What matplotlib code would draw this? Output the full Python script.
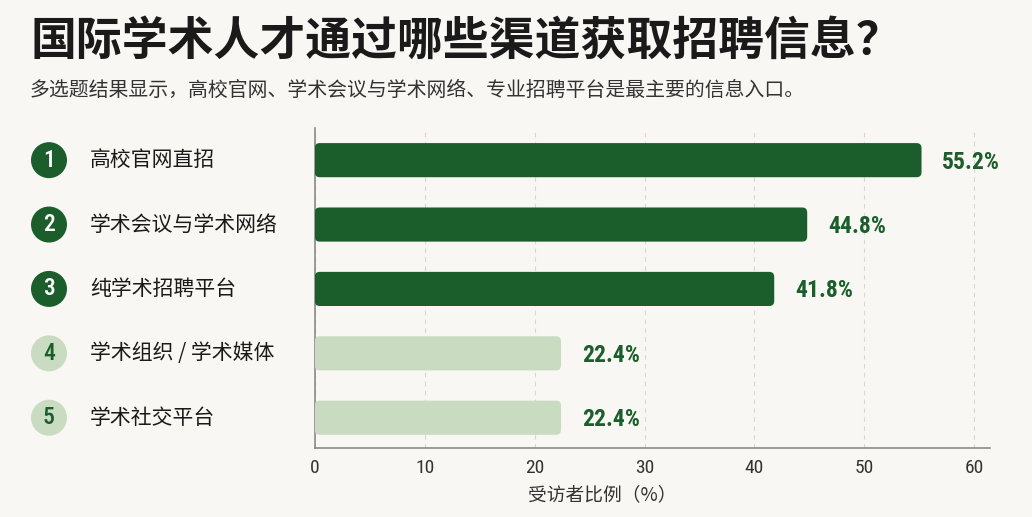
import matplotlib.pyplot as plt
from matplotlib import font_manager
from matplotlib.patches import FancyBboxPatch, Circle

plt.rcParams['font.family'] = ['Noto Sans CJK SC', 'DejaVu Sans']

# 数据
channels = ['高校官网直招', '学术会议与学术网络', '纯学术招聘平台', '学术组织 / 学术媒体', '学术社交平台']
shares = [55.2, 44.8, 41.8, 22.4, 22.4]
ranks = ['1', '2', '3', '4', '5']
xticks = [0, 10, 20, 30, 40, 50, 60]

bg = '#f8f7f3'
dark = '#1b5e2b'
light = '#c9dcc1'

# 找一个窄体字体给数字用
fonts = font_manager.fontManager.ttflist
names = {f.name for f in fonts}
num_stretch = 'normal'
if 'Roboto Condensed' in names:
    num_family = 'Roboto Condensed'
elif 'Liberation Sans Narrow' in names:
    num_family = 'Liberation Sans Narrow'
elif any(f.name == 'DejaVu Sans' and f.stretch == 'condensed' for f in fonts):
    num_family = 'DejaVu Sans'
    num_stretch = 'condensed'
else:
    num_family = 'Roboto'
num_font = [num_family, 'DejaVu Sans']

fig = plt.figure(figsize=(10.32, 5.17), dpi=100, facecolor=bg)
ax = fig.add_axes([0.305, 0.1335, 0.654, 0.619], facecolor=bg)

ax.set_xlim(0, 61.4)
ax.set_ylim(4.47, -0.5)

h = 0.53
for i, v in enumerate(shares):
    col = dark if i < 3 else light
    box = FancyBboxPatch((0, i - h / 2), v, h,
                         boxstyle='round,pad=0,rounding_size=0.45',
                         mutation_aspect=0.175, facecolor=col,
                         edgecolor='none', zorder=3)
    ax.add_patch(box)
    ax.text(v + 1.9, i + 0.03, f'{v}%', va='center', ha='left',
            fontsize=17, fontweight='bold', color=dark,
            family=num_font, fontstretch=num_stretch, zorder=4)

ax.set_xticks(xticks)
ax.set_xticklabels([str(t) for t in xticks], family=num_font,
                   fontstretch=num_stretch, fontsize=14, color='#333333')
ax.set_yticks([])
ax.tick_params(axis='x', length=0, pad=8)
ax.grid(axis='x', color='#d6d6d2', linestyle=(0, (4, 4)), linewidth=0.8, zorder=0)
for s in ['top', 'right']:
    ax.spines[s].set_visible(False)
for s in ['left', 'bottom']:
    ax.spines[s].set_color('#8a8a8a')
    ax.spines[s].set_linewidth(1.2)

# 左侧序号和类别
for i, (r, name) in enumerate(zip(ranks, channels)):
    y = ax.transData.transform((0, i))[1]
    yf = y / fig.bbox.height
    dark_badge = i < 3
    circ = Circle((49 / 100, y / 100), 18 / 100, transform=fig.dpi_scale_trans,
                  facecolor=dark if dark_badge else light, edgecolor='none')
    fig.patches.append(circ)
    circ.set_figure(fig)
    fig.text(49 / 1032, yf, r, ha='center', va='center', fontsize=17,
             fontweight='medium', color='white' if dark_badge else dark,
             family=num_font, fontstretch=num_stretch)
    fig.text(90 / 1032, yf, name, ha='left', va='center', fontsize=15,
             color='#1a1a1a')

fig.text(30 / 1032, 1 - 42 / 517, '国际学术人才通过哪些渠道获取招聘信息？',
         ha='left', va='center', fontsize=33, fontweight='bold', color='#1a1a1a')
fig.text(30 / 1032, 1 - 90 / 517,
         '多选题结果显示，高校官网、学术会议与学术网络、专业招聘平台是最主要的信息入口。',
         ha='left', va='center', fontsize=14.3, color='#333333')
fig.text(602 / 1032, 1 - 495 / 517, '受访者比例（%）', ha='center', va='center',
         fontsize=13.5, color='#333333')

fig.savefig('out.png', dpi=100, facecolor=bg)
